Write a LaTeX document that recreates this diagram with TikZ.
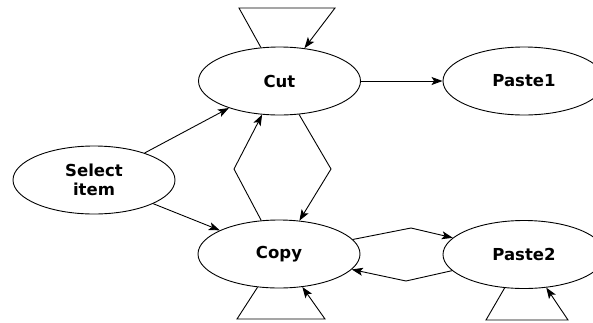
\documentclass[tikz,border=0pt]{standalone}
\usepackage{fontspec}
\setmainfont{DejaVu Sans}
\usetikzlibrary{shapes.geometric,arrows.meta}
\begin{document}
\begin{tikzpicture}[x=1pt,y=-1pt,
  state/.style={draw, ellipse, line width=0.9pt, minimum width=162pt, minimum height=68pt,
    inner sep=0pt, align=center, font=\fontsize{16.5}{19.5}\selectfont\bfseries},
  edge/.style={line width=0.9pt, -{Stealth[length=11pt,width=8pt,inset=2.5pt]}},
  plain/.style={line width=0.9pt}]
  \useasboundingbox (0,0) rectangle (593,322);
  \clip (0,0) rectangle (593,322);

  % states
  \node[state] (Cut)    at (279.5,81)  {Cut};
  \node[state] (Paste1) at (524,81)    {Paste1};
  \node[state] (Select) at (94,180)    {Select\\item};
  \node[state] (Copy)   at (279,254)   {Copy};
  \node[state] (Paste2) at (524,254.5) {Paste2};

  % bend points of the polyline edges
  \coordinate (cutL)  at (239,8);
  \coordinate (cutR)  at (335,8);
  \coordinate (copyL) at (237,319);
  \coordinate (copyR) at (325,319);
  \coordinate (p2L)   at (486,320);
  \coordinate (p2R)   at (568,320);
  \coordinate (up)    at (234,169);
  \coordinate (down)  at (331,169);
  \coordinate (right) at (411,228);
  \coordinate (left)  at (406,281);

  % transitions
  \draw[edge] (Select) -- (Cut);
  \draw[edge] (Select) -- (Copy);
  \draw[edge] (Cut) -- (Paste1);
  \draw[edge] (Copy) -- (up) -- (Cut);
  \draw[edge] (Cut) -- (down) -- (Copy);
  \draw[edge] (Copy) -- (right) -- (Paste2);
  \draw[edge] (Paste2) -- (left) -- (Copy);

  % self loops
  \draw[edge] (Cut) -- (cutL) -- (cutR) -- (Cut);
  \draw[edge] (Copy) -- (copyL) -- (copyR) -- (Copy);
  \draw[edge] (Paste2) -- (p2L) -- (p2R) -- (Paste2);
\end{tikzpicture}
\end{document}
